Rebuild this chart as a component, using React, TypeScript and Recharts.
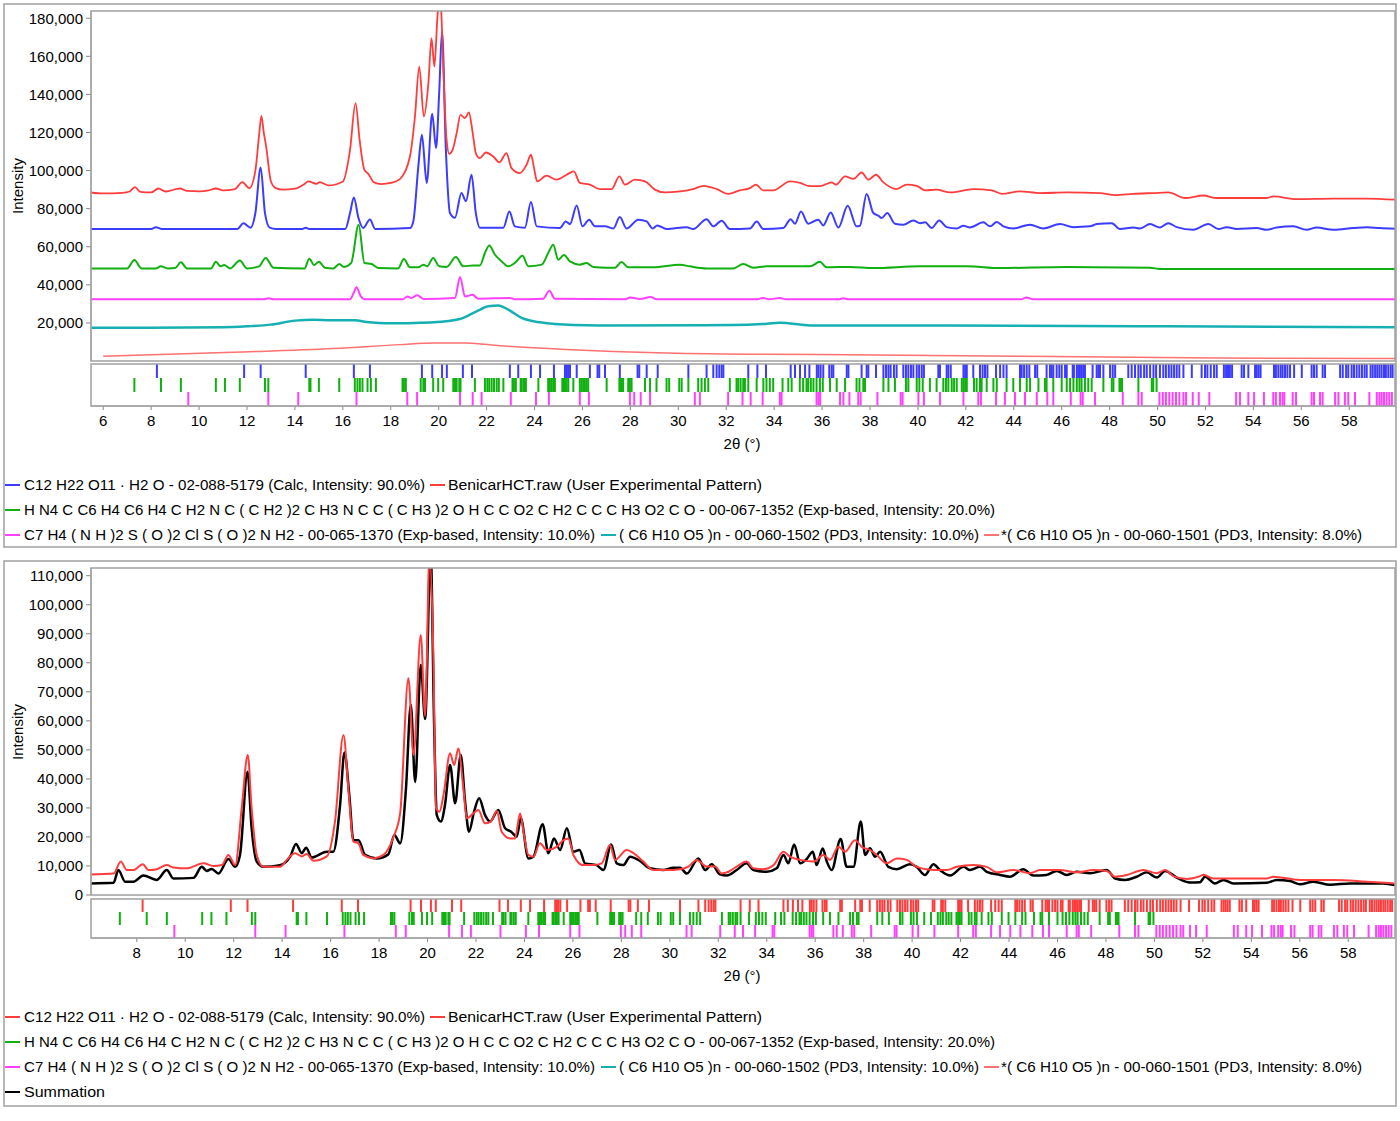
import { LineChart, Line, XAxis, YAxis, ScatterChart, Scatter } from 'recharts';

type Pt = [number, number];

const font = '"Liberation Sans", Arial, sans-serif';

const BLUE = '#3c3cff';
const RED = '#ff3c3c';
const GREEN = '#10b010';
const MAGENTA = '#ff40ff';
const CYAN = '#16b0b4';
const SALMON = '#ff7070';
const FRAME = '#a0a0a0';

// ---- top panel: stacked phase patterns (2theta, intensity) ----
const topExperimental: Pt[] = [
  [5.49, 88500], [6.0, 88000], [6.8, 88300], [7.1, 89000], [7.32, 91300], [7.55, 88800], [8.0, 88500],
  [8.3, 90600], [8.6, 89000], [9.2, 90600], [9.5, 89300], [10.0, 89100], [10.4, 89600], [10.7, 90600],
  [11.0, 89600], [11.5, 90300], [11.8, 93900], [12.1, 90800], [12.35, 100000], [12.5, 118000],
  [12.6, 128700], [12.7, 120000], [12.8, 112600], [13.0, 94300], [13.2, 90800], [13.5, 90000],
  [14.0, 90500], [14.4, 93000], [14.56, 94300], [14.9, 93000], [15.04, 93900], [15.4, 92200],
  [16.0, 94300], [16.3, 110900], [16.53, 135400], [16.7, 116100], [16.9, 100400], [17.06, 98300],
  [17.3, 93800], [17.6, 92900], [18.0, 93500], [18.38, 95500], [18.8, 107400], [19.01, 128400],
  [19.19, 154600], [19.38, 128400], [19.57, 145900], [19.7, 169500], [19.82, 154600], [19.94, 179000],
  [20.02, 192000], [20.1, 185000], [20.19, 154600], [20.33, 116100], [20.44, 108800], [20.58, 110900],
  [20.75, 119700], [20.91, 129300], [21.09, 127500], [21.26, 130500], [21.42, 119700], [21.55, 109200],
  [21.72, 106500], [21.97, 109500], [22.28, 107400], [22.53, 104300], [22.83, 109200], [23.04, 101300],
  [23.39, 98700], [23.67, 103100], [23.85, 108300], [23.98, 101300], [24.11, 94300], [24.5, 97300],
  [24.92, 95200], [25.34, 97800], [25.64, 99600], [25.89, 93500], [26.31, 92600], [26.73, 90300],
  [27.22, 90300], [27.54, 97000], [27.77, 92600], [28.19, 95200], [28.61, 94300], [29.02, 90000],
  [29.44, 88500], [30.07, 89100], [30.62, 90300], [31.04, 92000], [31.6, 90300], [32.08, 87800],
  [32.57, 89600], [32.99, 90800], [33.24, 92600], [33.54, 89600], [33.96, 89600], [34.66, 94300],
  [35.08, 93500], [35.49, 91800], [35.91, 91800], [36.4, 93800], [36.58, 92600], [36.96, 97000],
  [37.31, 95600], [37.65, 99000], [37.93, 95200], [38.25, 97800], [38.56, 93800], [39.11, 90300],
  [39.53, 92600], [39.95, 92000], [40.3, 89600], [40.78, 90000], [41.34, 88500], [42.31, 90300],
  [43.08, 89600], [43.5, 87800], [44.26, 89100], [45.1, 88200], [46.21, 88500], [47.6, 88200],
  [48.23, 87100], [48.99, 87800], [49.82, 88200], [50.45, 88500], [51.15, 85600], [51.91, 86900],
  [52.47, 85600], [54.56, 85600], [54.83, 86400], [55.81, 85000], [57.34, 85300], [58.73, 85300],
  [59.91, 84700],
];

const topLactose: Pt[] = [
  [5.49, 69300], [8.0, 69300], [8.2, 70200], [8.45, 69300], [11.6, 69300], [11.85, 72300], [12.15, 70000],
  [12.35, 77700], [12.57, 101600], [12.75, 77700], [12.95, 70000], [13.2, 69300], [14.3, 69300],
  [14.45, 70000], [14.6, 69300], [16.1, 69300], [16.3, 77700], [16.46, 85800], [16.65, 75200],
  [16.85, 69800], [17.13, 74300], [17.35, 69300], [18.8, 69800], [18.94, 73300], [19.15, 102100],
  [19.3, 118800], [19.5, 93500], [19.73, 129800], [19.89, 111800], [20.02, 140700], [20.14, 173000],
  [20.3, 110900], [20.47, 77700], [20.68, 75200], [20.95, 88200], [21.14, 83900], [21.37, 97800],
  [21.55, 77700], [21.72, 70000], [22.7, 70000], [22.95, 78500], [23.18, 70700], [23.6, 70000],
  [23.85, 83500], [24.09, 70700], [25.06, 69800], [25.3, 73300], [25.48, 71900], [25.76, 81700],
  [26.0, 70700], [26.28, 74200], [26.52, 70700], [26.94, 70700], [27.29, 69600], [27.56, 75600],
  [27.84, 69600], [28.33, 74200], [28.68, 73300], [28.93, 69600], [29.12, 71200], [29.51, 69300],
  [30.35, 70300], [30.62, 69300], [31.18, 74500], [31.46, 70700], [31.81, 73700], [32.15, 69300],
  [32.99, 69600], [33.27, 73300], [33.55, 69300], [34.38, 69800], [34.69, 74500], [34.87, 72100],
  [35.12, 78500], [35.42, 72100], [35.84, 74200], [36.05, 71200], [36.36, 78000], [36.68, 70100],
  [37.07, 81500], [37.44, 70700], [37.58, 71000], [37.86, 87700], [38.14, 77700], [38.35, 76300],
  [38.49, 75100], [38.72, 77700], [39.04, 72100], [39.39, 71600], [39.81, 73800], [40.09, 72400],
  [40.3, 72800], [40.57, 69800], [40.89, 73800], [41.2, 70300], [41.62, 69600], [41.9, 71000],
  [42.17, 70100], [42.73, 72800], [43.01, 70700], [43.29, 73000], [43.57, 70700], [43.98, 69600],
  [44.68, 71600], [45.23, 69600], [45.93, 71900], [46.49, 70300], [47.18, 70700], [47.46, 71900],
  [48.09, 72400], [48.43, 69300], [48.99, 70100], [49.27, 69600], [49.69, 71900], [50.1, 70100],
  [50.45, 72400], [50.8, 70300], [51.49, 68900], [52.12, 71900], [52.54, 69300], [52.89, 70300],
  [53.3, 69300], [54.14, 69800], [54.56, 68900], [54.97, 70100], [55.67, 70700], [56.22, 68900],
  [56.64, 70100], [57.34, 68900], [58.17, 69800], [58.73, 70300], [59.28, 69800], [59.91, 69500],
];

const topOlmesartan: Pt[] = [
  [5.49, 48600], [7.0, 48600], [7.3, 53000], [7.6, 48600], [8.2, 48600], [8.4, 49700], [8.7, 48600],
  [9.0, 48800], [9.24, 51800], [9.5, 48600], [10.5, 48600], [10.7, 52100], [10.9, 49700], [11.05, 50400],
  [11.3, 48600], [11.7, 52800], [12.0, 48600], [12.5, 49700], [12.78, 54100], [13.1, 49000],
  [14.4, 48600], [14.6, 53700], [14.8, 50400], [15.0, 52100], [15.25, 49000], [15.6, 48600],
  [15.85, 50900], [16.05, 49400], [16.35, 51500], [16.66, 71600], [16.9, 51500], [17.2, 50900],
  [17.5, 48800], [18.3, 48600], [18.55, 53500], [18.8, 49200], [19.15, 49200], [19.36, 50600],
  [19.52, 49700], [19.77, 54100], [20.02, 49700], [20.33, 49400], [20.72, 54600], [21.03, 49700],
  [21.44, 50200], [21.72, 50200], [21.93, 56700], [22.11, 60700], [22.35, 55800], [22.63, 52300],
  [22.9, 49700], [23.18, 51500], [23.5, 55300], [23.74, 49700], [24.3, 50600], [24.57, 56700],
  [24.78, 61100], [24.99, 53200], [25.23, 55700], [25.48, 52300], [25.89, 50600], [26.17, 51500],
  [26.45, 49400], [27.01, 49000], [27.36, 49000], [27.63, 52000], [27.91, 49200], [28.95, 49200],
  [30.07, 50600], [30.48, 49700], [31.18, 48600], [32.29, 48600], [32.71, 50900], [33.13, 49000],
  [33.68, 49700], [35.07, 49700], [35.5, 49700], [35.91, 52100], [36.19, 49200], [37.17, 49400],
  [38.14, 48800], [40.09, 49700], [42.04, 49700], [43.43, 48800], [46.21, 49400], [49.69, 49000],
  [50.1, 48300], [59.91, 48300],
];

const topHctz: Pt[] = [
  [5.49, 32400], [12.7, 32400], [12.9, 32900], [13.1, 32400], [16.3, 32400], [16.45, 35700],
  [16.57, 38700], [16.75, 33900], [16.9, 32400], [18.5, 32400], [18.7, 33900], [18.85, 33100],
  [19.11, 34500], [19.36, 32600], [20.68, 33100], [20.89, 44100], [21.1, 33900], [21.42, 34800],
  [21.65, 32700], [22.97, 33100], [23.2, 32400], [24.36, 32700], [24.62, 36900], [24.85, 32700],
  [27.8, 32400], [27.98, 33400], [28.4, 32600], [28.84, 33600], [29.1, 32400], [33.3, 32400],
  [33.52, 33100], [33.8, 32400], [34.24, 33100], [34.5, 32400], [36.7, 32400], [36.89, 32900],
  [37.1, 32400], [44.3, 32400], [44.54, 33400], [44.8, 32400], [59.91, 32400],
];

const topCellulose1502: Pt[] = [
  [5.49, 17400], [11.0, 17700], [12.0, 18200], [13.0, 19100], [14.0, 21200], [14.8, 21700], [15.5, 21400],
  [16.5, 21400], [17.0, 20500], [17.5, 20000], [18.0, 19800], [19.0, 20000], [19.77, 20300],
  [20.89, 22100], [21.58, 26100], [22.07, 28700], [22.49, 29200], [22.9, 27000], [23.46, 22600],
  [24.23, 20300], [25.62, 18900], [26.73, 18700], [32.29, 18900], [33.5, 19400], [34.24, 20100],
  [35.5, 18700], [40.0, 18700], [50.38, 18200], [59.91, 17700],
];

const topCellulose1501: Pt[] = [
  [6.0, 2500], [11.43, 4600], [15.6, 6500], [18.38, 8600], [19.77, 9500], [21.16, 9500], [22.56, 8000],
  [25.34, 6000], [29.51, 4200], [33.68, 3500], [35.9, 3400], [52.47, 1600], [59.91, 1300],
];

// ---- bottom panel: experimental vs summation ----
const bottomExperimental: Pt[] = [
  [6.11, 7100], [7.04, 7400], [7.34, 11500], [7.59, 8600], [7.86, 8600], [8.25, 10600], [8.48, 8600],
  [8.82, 8900], [9.24, 10300], [9.51, 9500], [10.06, 9200], [10.75, 10900], [11.16, 10000], [11.51, 10300],
  [11.78, 13800], [12.06, 10300], [12.33, 29900], [12.58, 48200], [12.74, 29900], [12.95, 13800],
  [13.23, 9700], [13.91, 9700], [14.19, 12100], [14.53, 14400], [14.81, 13300], [15.01, 14100],
  [15.29, 11800], [15.84, 13300], [16.18, 25300], [16.53, 55100], [16.73, 36700], [16.94, 18400],
  [17.15, 17800], [17.35, 13800], [17.77, 12600], [18.18, 13800], [18.59, 19900], [18.87, 28200],
  [19.21, 74700], [19.42, 48200], [19.72, 89600], [19.9, 61700], [20.08, 117000], [20.24, 82700],
  [20.35, 29900], [20.49, 28700], [20.66, 34500], [20.93, 48800], [21.1, 44800], [21.27, 50500],
  [21.48, 36700], [21.62, 26400], [21.89, 28100], [22.1, 29300], [22.37, 24700], [22.61, 25300],
  [22.86, 28900], [23.06, 21800], [23.41, 19500], [23.61, 19500], [23.82, 28100], [23.98, 20700],
  [24.16, 13800], [24.37, 13200], [24.64, 17800], [24.92, 15500], [25.33, 16600], [25.61, 18900],
  [25.81, 19500], [26.02, 13800], [26.43, 10300], [26.85, 10300], [27.19, 10900], [27.53, 17200],
  [27.74, 12100], [28.22, 15500], [28.5, 14400], [28.91, 11500], [29.32, 8600], [29.87, 8600],
  [30.42, 8900], [30.77, 9800], [31.11, 12100], [31.52, 9800], [31.87, 9800], [32.14, 7400],
  [32.42, 8000], [32.76, 9800], [33.17, 11500], [33.45, 9200], [33.86, 8900], [34.28, 10300],
  [34.69, 14900], [34.96, 13200], [35.38, 12100], [35.93, 11500], [36.34, 13800], [36.61, 12100],
  [36.96, 16600], [37.23, 14900], [37.64, 18900], [37.92, 16600], [38.26, 15500], [38.54, 13800],
  [38.95, 10900], [39.37, 12600], [39.78, 12100], [40.19, 9700], [40.88, 8600], [41.43, 8600],
  [41.84, 9700], [42.53, 10300], [43.08, 9700], [43.49, 7800], [44.18, 8600], [44.87, 7500],
  [45.28, 8600], [46.11, 8600], [46.79, 7800], [47.48, 8600], [48.03, 8300], [48.38, 6300],
  [48.86, 6900], [49.55, 8600], [50.1, 7500], [50.44, 8600], [50.78, 6500], [51.33, 5500],
  [51.88, 6500], [52.02, 7000], [52.43, 5700], [54.63, 5700], [54.91, 6300], [56.01, 5200],
  [57.39, 5200], [58.76, 4600], [59.93, 4000],
];

const bottomSummation: Pt[] = [
  [6.11, 4000], [7.04, 4200], [7.24, 8600], [7.52, 4600], [7.86, 4600], [8.27, 6700], [8.82, 5200],
  [9.24, 8600], [9.51, 5700], [10.34, 5900], [10.68, 9700], [10.89, 8300], [11.09, 9000], [11.37, 7400],
  [11.78, 12400], [12.06, 9700], [12.26, 13800], [12.57, 42500], [12.74, 23000], [12.95, 11500],
  [13.23, 9700], [13.91, 10300], [14.33, 13200], [14.57, 17600], [14.81, 14400], [14.99, 16300],
  [15.22, 12900], [15.84, 14900], [16.11, 14900], [16.39, 31000], [16.57, 49100], [16.77, 34500],
  [16.94, 18900], [17.15, 18900], [17.42, 13800], [17.9, 12600], [18.38, 14000], [18.63, 20700],
  [18.87, 17800], [19.11, 36700], [19.31, 65500], [19.49, 38900], [19.72, 79200], [19.9, 60600],
  [20.13, 118000], [20.27, 59300], [20.38, 27600], [20.55, 25300], [20.72, 31000], [20.93, 44800],
  [21.14, 31600], [21.37, 48200], [21.55, 32100], [21.71, 21800], [21.92, 28700], [22.13, 33300],
  [22.37, 27600], [22.58, 25300], [22.92, 29300], [23.2, 23000], [23.45, 21800], [23.68, 20100],
  [23.85, 26400], [24.16, 12600], [24.37, 13200], [24.75, 24400], [24.99, 14400], [25.22, 19500],
  [25.47, 15500], [25.75, 23000], [26.02, 14900], [26.27, 15500], [26.5, 10900], [26.98, 10300],
  [27.26, 8600], [27.58, 17400], [27.81, 10900], [28.08, 10300], [28.36, 13200], [28.77, 11700],
  [29.18, 9200], [29.73, 8600], [30.15, 9400], [30.42, 9400], [30.7, 7400], [31.18, 12600],
  [31.46, 8600], [31.73, 10600], [32.07, 7100], [32.35, 6700], [32.76, 8600], [33.17, 10900],
  [33.45, 8600], [34.0, 8000], [34.41, 9200], [34.69, 13800], [34.89, 10900], [35.13, 17400],
  [35.38, 10900], [35.65, 12400], [35.9, 14900], [36.06, 10300], [36.31, 16000], [36.48, 11500],
  [36.68, 8600], [37.05, 19300], [37.3, 9700], [37.58, 9700], [37.88, 25300], [38.06, 13800],
  [38.26, 16100], [38.47, 13200], [38.68, 14900], [39.02, 9700], [39.37, 8900], [39.91, 10600],
  [40.19, 9700], [40.53, 6900], [40.88, 10600], [41.15, 8600], [41.57, 6700], [42.12, 9700],
  [42.39, 8600], [42.8, 9700], [43.08, 8000], [43.63, 6900], [44.04, 6300], [44.59, 8900],
  [45.0, 6700], [45.55, 6900], [45.97, 8300], [46.38, 6900], [46.79, 8000], [47.34, 7500],
  [48.03, 8600], [48.38, 5700], [48.79, 5200], [49.27, 6300], [49.68, 7800], [50.1, 6000],
  [50.44, 8300], [50.92, 6000], [51.47, 4300], [51.88, 4400], [52.09, 6300], [52.5, 4000],
  [52.85, 5200], [53.26, 4000], [54.63, 4200], [55.05, 5200], [55.6, 4800], [56.01, 3700],
  [56.56, 4600], [57.25, 3500], [58.07, 4000], [59.45, 4000], [59.93, 3400],
];

// ---- reference peak positions (2theta) ----
const lactoseSticks = [
  8.24, 11.88, 12.57, 14.45, 16.46, 17.13, 19.3, 19.73, 20.14, 20.34, 21.01, 21.39, 22.97, 23.32, 23.85,
  24.23, 24.81, 25.27, 25.34, 25.4, 25.48, 25.76, 26.31, 26.63, 26.7, 26.94, 27.56, 28.3, 28.37, 28.68,
  29.14, 30.42, 31.18, 31.46, 31.6, 31.71, 31.81, 31.88, 32.92, 33.3, 33.66, 34.69, 34.87, 35.08, 35.29,
  35.47, 35.78, 35.85, 35.94, 36.05, 36.3, 36.4, 36.47, 37.03, 37.1, 37.65, 37.86, 37.93, 38.25, 38.56,
  38.67, 38.77, 38.86, 39.0, 39.11, 39.39, 39.5, 39.6, 39.71, 39.81, 39.95, 40.05, 40.16, 40.25, 40.85,
  40.92, 41.2, 41.27, 41.37, 41.9, 41.97, 42.04, 42.31, 42.59, 42.7, 42.8, 42.9, 43.26, 43.43, 43.57,
  43.7, 44.26, 44.33, 44.43, 44.54, 44.65, 44.89, 44.98, 45.37, 45.51, 45.58, 45.65, 45.79, 45.9, 46.0,
  46.14, 46.21, 46.46, 46.51, 46.63, 46.69, 46.76, 46.83, 46.9, 46.97, 47.29, 47.46, 47.53, 47.6, 47.74,
  48.02, 48.13, 48.23, 48.78, 48.92, 49.06, 49.2, 49.3, 49.44, 49.55, 49.69, 49.83, 49.94, 50.1, 50.24,
  50.35, 50.47, 50.58, 50.69, 50.8, 50.91, 51.08, 51.43, 51.84, 51.98, 52.08, 52.22, 52.36, 52.47, 52.77,
  52.86, 52.94, 53.02, 53.11, 53.51, 53.61, 53.79, 54.07, 54.14, 54.22, 54.3, 54.86, 54.94, 55.04, 55.14,
  55.22, 55.32, 55.42, 55.53, 55.7, 56.02, 56.43, 56.53, 56.64, 56.89, 56.99, 57.62, 57.73, 57.87, 57.96,
  58.1, 58.2, 58.31, 58.42, 58.53, 58.64, 58.73, 58.89, 58.98, 59.08, 59.17, 59.26, 59.35, 59.45, 59.53,
  59.63, 59.73, 59.81,
];

const olmesartanSticks = [
  7.3, 8.41, 9.24, 10.7, 11.08, 11.7, 12.75, 12.89, 14.6, 14.65, 15.0, 15.85, 16.5, 16.61, 16.71, 16.82,
  17.03, 17.17, 17.38, 18.49, 18.55, 18.63, 19.25, 19.36, 19.43, 19.77, 19.98, 20.19, 20.61, 20.68, 20.75,
  20.86, 20.91, 21.51, 21.93, 22.03, 22.11, 22.21, 22.31, 22.42, 22.51, 22.7, 23.08, 23.14, 23.22, 23.42,
  23.47, 23.56, 23.64, 24.16, 24.57, 24.64, 24.71, 24.78, 24.85, 25.16, 25.2, 25.27, 25.34, 25.41, 25.62,
  25.89, 25.96, 26.03, 26.1, 26.17, 26.24, 27.01, 27.54, 27.59, 27.65, 27.7, 27.91, 27.98, 28.05, 28.61,
  28.82, 29.09, 29.51, 29.62, 30.04, 30.14, 30.42, 30.83, 30.97, 31.11, 31.25, 32.15, 32.43, 32.5, 32.6,
  32.71, 32.78, 32.92, 33.27, 33.55, 33.68, 33.82, 33.96, 34.35, 34.59, 34.73, 35.07, 35.21, 35.35, 35.42,
  35.53, 35.64, 35.77, 35.91, 36.03, 36.33, 36.61, 36.96, 37.44, 37.56, 37.72, 37.79, 38.56, 38.77, 39.04,
  39.5, 39.6, 39.95, 40.06, 40.2, 40.5, 40.78, 41.06, 41.17, 41.27, 41.41, 41.51, 41.62, 41.83, 41.9,
  41.97, 42.04, 42.34, 42.45, 42.59, 42.66, 42.87, 43.15, 43.29, 43.7, 43.98, 44.26, 44.54, 44.68, 45.03,
  45.3, 45.37, 45.65, 46.0, 46.21, 46.35, 46.49, 46.63, 46.74, 46.83, 46.97, 47.11, 47.25, 47.74, 48.09,
  48.16, 48.41, 48.46, 48.52, 49.2, 49.76, 49.82, 49.96,
];

const hctzSticks = [
  9.55, 12.89, 14.14, 16.57, 18.69, 19.1, 20.89, 21.42, 21.79, 23.01, 24.06, 24.6, 25.89, 26.27, 27.98,
  28.16, 28.43, 28.82, 30.69, 30.9, 32.08, 32.68, 33.02, 33.52, 34.24, 34.31, 35.77, 35.85, 35.92, 36.75,
  36.89, 37.14, 37.51, 37.61, 38.31, 39.28, 39.36, 40.02, 40.25, 40.92, 41.9, 42.52, 42.63, 43.26, 43.63,
  44.05, 44.47, 44.96, 45.4, 45.65, 46.38, 46.79, 46.88, 47.39, 48.55, 49.2, 49.34, 50.08, 50.22, 50.35,
  50.49, 50.63, 50.77, 50.91, 51.08, 51.19, 51.47, 51.72, 52.16, 53.28, 53.44, 53.79, 54.03, 54.44, 54.83,
  54.94, 55.11, 55.22, 55.29, 55.64, 55.78, 56.43, 56.53, 56.78, 56.89, 57.41, 57.55, 57.82, 57.96, 58.24,
  58.84, 59.15, 59.26, 59.35, 59.45, 59.56, 59.67, 59.78,
];

const topYTicks = [20000, 40000, 60000, 80000, 100000, 120000, 140000, 160000, 180000];
const bottomYTicks = [0, 10000, 20000, 30000, 40000, 50000, 60000, 70000, 80000, 90000, 100000, 110000];
const topXTicks = [6, 8, 10, 12, 14, 16, 18, 20, 22, 24, 26, 28, 30, 32, 34, 36, 38, 40, 42, 44, 46, 48, 50, 52, 54, 56, 58];
const bottomXTicks = topXTicks.slice(1);

const topLegend = [
  { row: 0, lx: 5, tx: 24, w: 401, color: BLUE, text: 'C12 H22 O11 · H2 O - 02-088-5179 (Calc, Intensity: 90.0%)' },
  { row: 0, lx: 430, tx: 448, w: 314, color: RED, text: 'BenicarHCT.raw (User Experimental Pattern)' },
  { row: 1, lx: 5, tx: 24, w: 971, color: GREEN, text: 'H N4 C C6 H4 C6 H4 C H2 N C ( C H2 )2 C H3 N C C ( C H3 )2 O H C C O2 C H2 C C C H3 O2 C O - 00-067-1352 (Exp-based, Intensity: 20.0%)' },
  { row: 2, lx: 5, tx: 24, w: 571, color: MAGENTA, text: 'C7 H4 ( N H )2 S ( O )2 Cl S ( O )2 N H2 - 00-065-1370 (Exp-based, Intensity: 10.0%)' },
  { row: 2, lx: 601, tx: 619, w: 360, color: CYAN, text: '( C6 H10 O5 )n - 00-060-1502 (PD3, Intensity: 10.0%)' },
  { row: 2, lx: 984, tx: 1001, w: 361, color: SALMON, text: '*( C6 H10 O5 )n - 00-060-1501 (PD3, Intensity: 8.0%)' },
];
const bottomLegend = [
  ...topLegend.map((e, i) => (i === 0 ? { ...e, color: RED } : e)),
  { row: 3, lx: 5, tx: 24, w: 81, color: '#000', text: 'Summation' },
];

const toRows = (pts: Pt[]) => pts.map(([x, y]) => ({ x, y }));
const toSticks = (xs: number[], row: number) => xs.map((x) => ({ x, y: row }));

const fmt = (v: number) => v.toLocaleString('en-US');

const stick = (color: string, len: number) => (props: any) => {
  const { cx, cy } = props;
  if (cx == null || cy == null) return <g />;
  return <line x1={cx} x2={cx} y1={cy - len / 2} y2={cy + len / 2} stroke={color} strokeWidth={2} />;
};

const tickStyle = { fill: '#000', fontSize: 15, fontFamily: font };

function Legend({ items, top }: { items: typeof bottomLegend; top: number }) {
  return (
    <>
      {items.map((e) => {
        const y = top + e.row * 25;
        return (
          <g key={e.text}>
            <line x1={e.lx} x2={e.lx + 15} y1={y} y2={y} stroke={e.color} strokeWidth={2} />
            <text x={e.tx} y={y} dominantBaseline="central" fontSize={14} fontFamily={font} fill="#000"
              textLength={e.w} lengthAdjust="spacingAndGlyphs">
              {e.text}
            </text>
          </g>
        );
      })}
    </>
  );
}

// plot area always ends 4px + extra above the chart's bottom; extra room keeps the lowest tick label visible
function MainPlot({ top, plotHeight, domainX, domainY, yTicks, series }: {
  top: number; plotHeight: number; domainX: [number, number]; domainY: [number, number]; yTicks: number[];
  series: { data: Pt[]; color: string; width: number; type: 'linear' | 'monotone' }[];
}) {
  return (
    <div style={{ position: 'absolute', left: 0, top }}>
      <LineChart width={1396} height={plotHeight + 11 + 12} margin={{ top: 11, right: 1, bottom: 12, left: 0 }}>
        <XAxis type="number" dataKey="x" domain={domainX} allowDataOverflow hide />
        <YAxis type="number" domain={domainY} allowDataOverflow ticks={yTicks} interval={0} width={91}
          tickFormatter={fmt} tick={tickStyle} tickSize={5} tickMargin={3}
          tickLine={{ stroke: '#888' }} axisLine={{ stroke: FRAME }} />
        {series.map((s, i) => (
          <Line key={i} data={toRows(s.data)} dataKey="y" type={s.type} stroke={s.color} strokeWidth={s.width}
            dot={false} isAnimationActive={false} />
        ))}
      </LineChart>
    </div>
  );
}

function StickStrip({ top, plotHeight, domainX, xTicks, rows }: {
  top: number; plotHeight: number; domainX: [number, number]; xTicks: number[];
  rows: { xs: number[]; color: string; row: number }[];
}) {
  const len = plotHeight / 3;
  return (
    <div style={{ position: 'absolute', left: 0, top }}>
      <ScatterChart width={1396} height={plotHeight + 24} margin={{ top: 0, right: 1, bottom: 0, left: 91 }}>
        <XAxis type="number" dataKey="x" domain={domainX} allowDataOverflow ticks={xTicks} interval={0}
          height={24} tick={tickStyle} tickSize={4} tickMargin={5} tickLine={{ stroke: '#888' }}
          axisLine={{ stroke: FRAME }} />
        <YAxis type="number" dataKey="y" domain={[0, 3]} hide />
        {rows.map((r) => (
          <Scatter key={r.row} data={toSticks(r.xs, r.row)} shape={stick(r.color, len)} isAnimationActive={false} />
        ))}
      </ScatterChart>
    </div>
  );
}

export default function App() {
  const topDomainX: [number, number] = [5.49, 59.91];
  const bottomDomainX: [number, number] = [6.11, 59.93];
  return (
    <div style={{ position: 'absolute', left: 0, top: 0, width: 1400, height: 1121, background: '#fff', overflow: 'hidden' }}>
      <MainPlot top={0} plotHeight={350} domainX={topDomainX} domainY={[0, 183800]} yTicks={topYTicks}
        series={[
          { data: topCellulose1501, color: SALMON, width: 1.5, type: 'monotone' },
          { data: topCellulose1502, color: CYAN, width: 2.5, type: 'monotone' },
          { data: topHctz, color: MAGENTA, width: 2, type: 'monotone' },
          { data: topOlmesartan, color: GREEN, width: 2, type: 'monotone' },
          { data: topLactose, color: BLUE, width: 2, type: 'monotone' },
          { data: topExperimental, color: RED, width: 1.8, type: 'monotone' },
        ]} />
      <StickStrip top={364} plotHeight={42} domainX={topDomainX} xTicks={topXTicks}
        rows={[
          { xs: lactoseSticks, color: BLUE, row: 2.5 },
          { xs: olmesartanSticks, color: GREEN, row: 1.5 },
          { xs: hctzSticks, color: MAGENTA, row: 0.5 },
        ]} />
      <MainPlot top={557} plotHeight={327} domainX={bottomDomainX} domainY={[0, 112650]} yTicks={bottomYTicks}
        series={[
          { data: bottomSummation, color: '#000', width: 2.5, type: 'monotone' },
          { data: bottomExperimental, color: RED, width: 2, type: 'monotone' },
        ]} />
      <StickStrip top={899} plotHeight={39} domainX={bottomDomainX} xTicks={bottomXTicks}
        rows={[
          { xs: lactoseSticks, color: RED, row: 2.5 },
          { xs: olmesartanSticks, color: GREEN, row: 1.5 },
          { xs: hctzSticks, color: MAGENTA, row: 0.5 },
        ]} />
      <svg width={1400} height={1121} style={{ position: 'absolute', left: 0, top: 0, pointerEvents: 'none' }}>
        <g fill="none" stroke={FRAME} strokeWidth={1.5}>
          <rect x={4} y={4} width={1392} height={543} />
          <rect x={91} y={11} width={1304} height={350} />
          <rect x={91} y={364} width={1304} height={42} />
          <rect x={4} y={561} width={1392} height={545} />
          <rect x={91} y={568} width={1304} height={327} />
          <rect x={91} y={899} width={1304} height={39} />
        </g>
        <text transform="translate(17,186) rotate(-90)" textAnchor="middle" dominantBaseline="central"
          fontSize={15} fontFamily={font} fill="#000">Intensity</text>
        <text transform="translate(17,732) rotate(-90)" textAnchor="middle" dominantBaseline="central"
          fontSize={15} fontFamily={font} fill="#000">Intensity</text>
        <text x={742} y={443} textAnchor="middle" dominantBaseline="central" fontSize={15} fontFamily={font} fill="#000">2θ (°)</text>
        <text x={742} y={975} textAnchor="middle" dominantBaseline="central" fontSize={15} fontFamily={font} fill="#000">2θ (°)</text>
        <Legend items={topLegend} top={485} />
        <Legend items={bottomLegend} top={1017} />
      </svg>
    </div>
  );
}
